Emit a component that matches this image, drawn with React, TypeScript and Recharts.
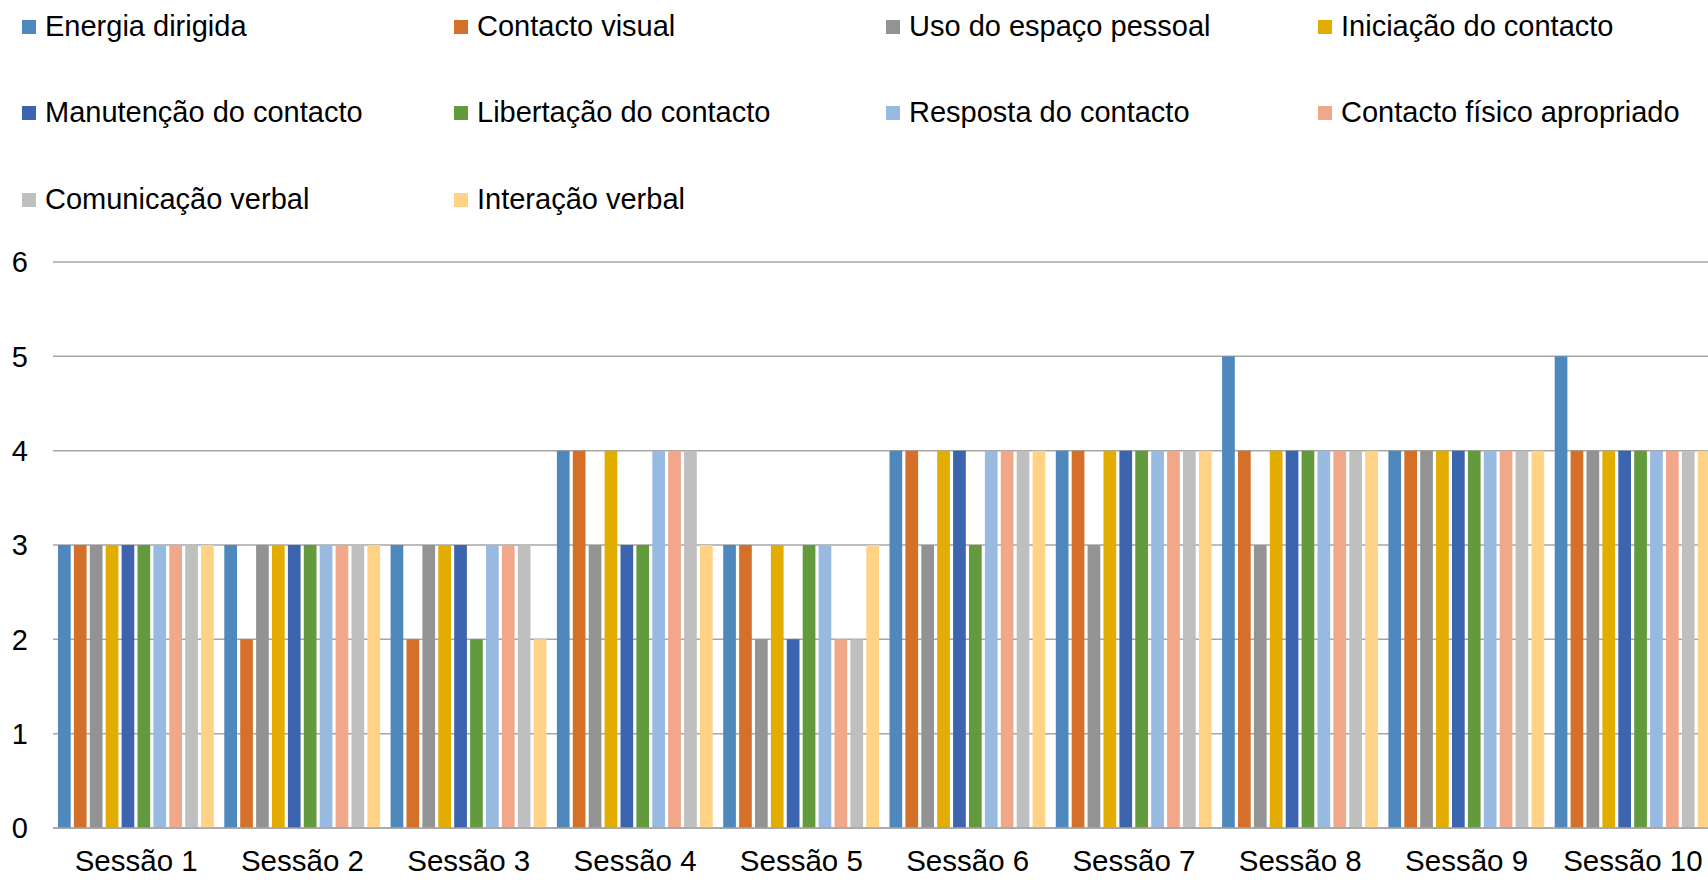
import { BarChart, Bar, XAxis, YAxis, CartesianGrid } from "recharts";

const sessions = [
  "Sessão 1",
  "Sessão 2",
  "Sessão 3",
  "Sessão 4",
  "Sessão 5",
  "Sessão 6",
  "Sessão 7",
  "Sessão 8",
  "Sessão 9",
  "Sessão 10",
];

const energiaDirigida = [3, 3, 3, 4, 3, 4, 4, 5, 4, 5];
const contactoVisual = [3, 2, 2, 4, 3, 4, 4, 4, 4, 4];
const usoEspaco = [3, 3, 3, 3, 2, 3, 3, 3, 4, 4];
const iniciacao = [3, 3, 3, 4, 3, 4, 4, 4, 4, 4];
const manutencao = [3, 3, 3, 3, 2, 4, 4, 4, 4, 4];
const libertacao = [3, 3, 2, 3, 3, 3, 4, 4, 4, 4];
const resposta = [3, 3, 3, 4, 3, 4, 4, 4, 4, 4];
const contactoFisico = [3, 3, 3, 4, 2, 4, 4, 4, 4, 4];
const comunicacao = [3, 3, 3, 4, 2, 4, 4, 4, 4, 4];
const interacao = [3, 3, 2, 3, 3, 4, 4, 4, 4, 4];

const yTicks = [0, 1, 2, 3, 4, 5, 6];

const series = [
  { key: "energia", name: "Energia dirigida", values: energiaDirigida, color: "#4F88BD" },
  { key: "visual", name: "Contacto visual", values: contactoVisual, color: "#D5702B" },
  { key: "espaco", name: "Uso do espaço pessoal", values: usoEspaco, color: "#939393" },
  { key: "iniciacao", name: "Iniciação do contacto", values: iniciacao, color: "#E2AC00" },
  { key: "manutencao", name: "Manutenção do contacto", values: manutencao, color: "#3D64AE" },
  { key: "libertacao", name: "Libertação do contacto", values: libertacao, color: "#639A3E" },
  { key: "resposta", name: "Resposta do contacto", values: resposta, color: "#98B9E0" },
  { key: "fisico", name: "Contacto físico apropriado", values: contactoFisico, color: "#F0A78A" },
  { key: "comunicacao", name: "Comunicação verbal", values: comunicacao, color: "#BFBFBF" },
  { key: "interacao", name: "Interação verbal", values: interacao, color: "#FFD285" },
];

const data = sessions.map((s, i) => {
  const row: Record<string, string | number> = { session: s };
  series.forEach((sr) => {
    row[sr.key] = sr.values[i];
  });
  return row;
});

const font = "'Liberation Sans', Arial, sans-serif";

const Legend = () => (
  <div style={{ position: "absolute", left: 0, top: 0, width: 1708, height: 240 }}>
    {series.map((sr, i) => {
      const col = i % 4;
      const row = Math.floor(i / 4);
      return (
        <div
          key={sr.key}
          style={{
            position: "absolute",
            left: 22 + col * 432,
            top: 11 + row * 86.3,
            height: 30,
            display: "flex",
            alignItems: "center",
            whiteSpace: "nowrap",
          }}
        >
          <span
            style={{
              display: "inline-block",
              width: 14,
              height: 14,
              background: sr.color,
              marginRight: 9,
              marginTop: 2,
            }}
          />
          <span style={{ fontSize: 29, lineHeight: "30px", color: "#000" }}>{sr.name}</span>
        </div>
      );
    })}
  </div>
);

export default function App() {
  return (
    <div
      style={{
        position: "fixed",
        left: 0,
        top: 0,
        width: 1708,
        height: 883,
        overflow: "hidden",
        background: "#fff",
        fontFamily: font,
      }}
    >
      <Legend />
      <div style={{ position: "absolute", left: 0, top: 0 }}>
        <BarChart
          width={1716}
          height={883}
          data={data}
          margin={{ top: 262, right: 0, left: 0, bottom: 0 }}
          barGap={3.2}
          barSize={12.7}
        >
          <CartesianGrid vertical={false} stroke="#a6a6a6" strokeWidth={1.5} />
          <XAxis
            dataKey="session"
            height={55}
            tickLine={false}
            tickSize={0}
            tickMargin={22}
            axisLine={{ stroke: "#a6a6a6", strokeWidth: 1.5 }}
            tick={{ fontSize: 29.5, fill: "#000", fontFamily: font }}
            interval={0}
          />
          <YAxis
            width={53}
            domain={[0, 6]}
            ticks={yTicks}
            axisLine={false}
            tickLine={false}
            tickSize={0}
            tickMargin={25}
            tick={{ fontSize: 29, fill: "#000", fontFamily: font }}
          />
          {series.map((sr) => (
            <Bar
              key={sr.key}
              dataKey={sr.key}
              name={sr.name}
              fill={sr.color}
              isAnimationActive={false}
            />
          ))}
        </BarChart>
      </div>
    </div>
  );
}
